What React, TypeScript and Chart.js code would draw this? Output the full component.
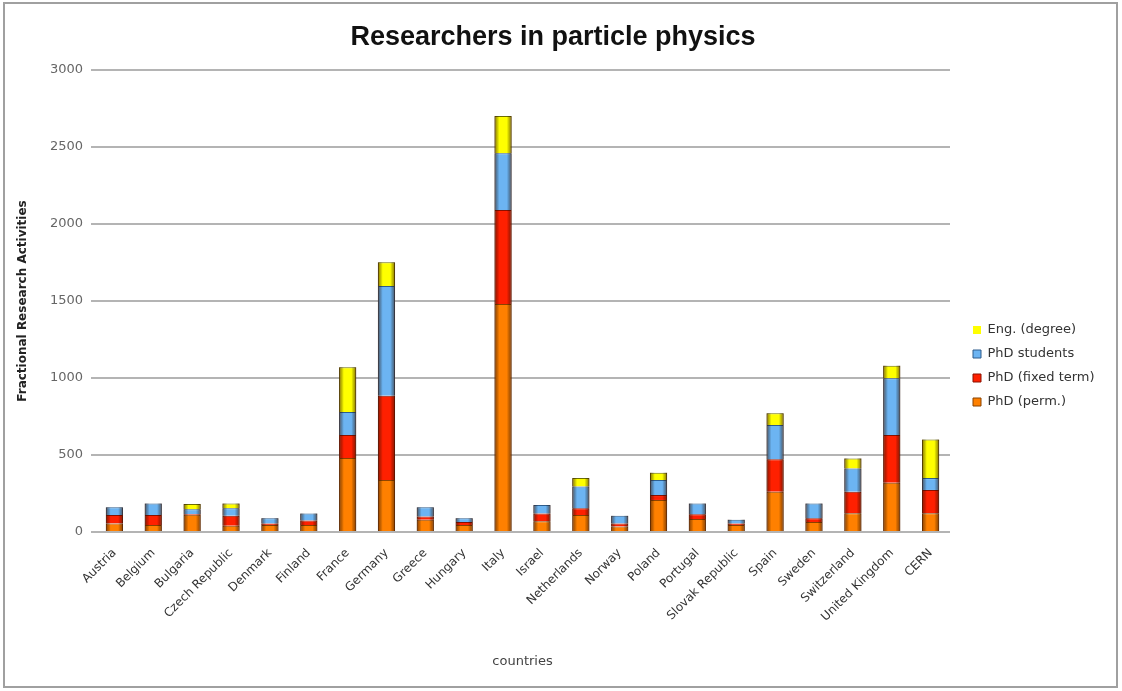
import React, { useEffect, useRef } from "react";
import { Chart, registerables } from "chart.js";

Chart.register(...registerables);

const countries = [
  "Austria", "Belgium", "Bulgaria", "Czech Republic", "Denmark", "Finland",
  "France", "Germany", "Greece", "Hungary", "Italy", "Israel", "Netherlands",
  "Norway", "Poland", "Portugal", "Slovak Republic", "Spain", "Sweden",
  "Switzerland", "United Kingdom", "CERN",
];

const phdPerm = [55, 45, 112, 40, 45, 45, 480, 338, 80, 45, 1481, 70, 110, 35, 208, 85, 45, 262, 65, 121, 320, 121];
const phdFixed = [55, 65, 5, 65, 10, 30, 150, 547, 20, 20, 610, 50, 45, 20, 32, 30, 10, 210, 25, 141, 310, 152];
const phdStudents = [50, 75, 30, 50, 35, 45, 150, 712, 60, 25, 368, 55, 140, 50, 98, 70, 25, 223, 95, 151, 368, 77];
const engDegree = [0, 0, 35, 30, 0, 0, 290, 154, 0, 0, 242, 0, 55, 0, 47, 0, 0, 76, 0, 65, 82, 250];

const seriesNames = ["PhD (perm.)", "PhD (fixed term)", "PhD students", "Eng. (degree)"];
const yMin = 0;
const yMax = 3000;
const yStep = 500;

const TITLE_FONT = "Arial, 'Liberation Sans', sans-serif";
const FONT = "'DejaVu Sans', Verdana, sans-serif";
const W = 1122;
const H = 691;

export default function App() {
  const ref = useRef<HTMLCanvasElement>(null);

  useEffect(() => {
    document.body.style.margin = "0";
    const canvas = ref.current!;

    const framePlugin = {
      id: "frame",
      afterDraw(chart: any) {
        const c = chart.ctx;
        c.save();
        c.strokeStyle = "#a0a0a0";
        c.lineWidth = 2;
        c.strokeRect(4, 3, W - 9, H - 7);
        c.restore();
      },
    };

    const shadePlugin = {
      id: "shade",
      afterDatasetsDraw(chart: any) {
        const c = chart.ctx;
        chart.data.datasets.forEach((ds: any, i: number) => {
          const meta = chart.getDatasetMeta(i);
          meta.data.forEach((bar: any, j: number) => {
            if (!ds.data[j]) return;
            const { x, y, base, width } = bar.getProps(["x", "y", "base", "width"], true);
            const l = x - width / 2;
            const g = c.createLinearGradient(l, 0, l + width, 0);
            g.addColorStop(0, "rgba(70,25,0,0.6)");
            g.addColorStop(0.28, "rgba(0,0,0,0)");
            g.addColorStop(0.72, "rgba(0,0,0,0)");
            g.addColorStop(1, "rgba(70,25,0,0.6)");
            c.save();
            c.fillStyle = g;
            c.fillRect(l, Math.min(y, base), width, Math.abs(base - y));
            c.restore();
          });
        });
      },
    };

    const legendPlugin = {
      id: "legendPos",
      beforeUpdate(chart: any) {
        const lg = chart.legend;
        if (lg && !lg._wrappedFit) {
          const orig = lg.fit.bind(lg);
          lg.fit = function () {
            orig();
            this.width = W - 16 - 950;
          };
          lg._wrappedFit = true;
        }
      },
      afterUpdate(chart: any) {
        const lg = chart.legend;
        const hb = lg && lg.legendHitBoxes;
        if (!hb || !hb.length) return;
        const dy = 330 - (hb[0].top + hb[0].height / 2);
        const dx = 973 - hb[0].left;
        lg.top += dy;
        lg.bottom += dy;
        lg.left += dx;
        lg.right += dx;
        lg.adjustHitBoxes();
      },
    };

    const mk = (label: string, data: number[], bg: string, border: string) => ({
      label,
      data,
      backgroundColor: bg,
      borderColor: border,
      borderWidth: (ctx: any) => (ctx.raw ? 1 : 0),
      barPercentage: 0.44,
      categoryPercentage: 1,
    });

    const chart = new Chart(canvas, {
      type: "bar",
      data: {
        labels: countries,
        datasets: [
          mk(seriesNames[0], phdPerm, "#FF8000", "#8a4200"),
          mk(seriesNames[1], phdFixed, "#FF2000", "#8a1000"),
          mk(seriesNames[2], phdStudents, "#6cb4f2", "#2e5d8c"),
          mk(seriesNames[3], engDegree, "#FFFF00", "#6e6e00"),
        ],
      },
      options: {
        animation: false,
        responsive: true,
        maintainAspectRatio: false,
        layout: { padding: { left: 0, right: 16, top: 0, bottom: 0 } },
        plugins: {
          title: {
            display: true,
            text: "Researchers in particle physics",
            color: "#111",
            font: { family: TITLE_FONT, size: 27, weight: "bold" },
            padding: { top: 21, bottom: 16.6 },
          },
          legend: {
            display: true,
            position: "right",
            reverse: true,
            labels: {
              boxWidth: 8,
              boxHeight: 8,
              padding: 11,
              color: "#333",
              font: { family: FONT, size: 13 },
            },
          },
          tooltip: { enabled: false },
        },
        scales: {
          x: {
            stacked: true,
            grid: { display: false },
            border: { display: false },
            ticks: {
              autoSkip: false,
              minRotation: 45,
              maxRotation: 45,
              color: "#333",
              font: { family: FONT, size: 12 },
              padding: 6,
            },
            title: {
              display: true,
              text: "countries",
              color: "#444",
              font: { family: FONT, size: 13 },
              padding: { top: 0, bottom: 22 },
            },
            afterFit: (s: any) => {
              s.height = H - 532;
            },
          },
          y: {
            stacked: true,
            min: yMin,
            max: yMax,
            ticks: {
              stepSize: yStep,
              color: "#666",
              font: { family: FONT, size: 13 },
              padding: 8,
              callback: (v: any) => String(v),
            },
            grid: { color: "#b4b4b4", lineWidth: 2, tickLength: 4 },
            border: { display: false },
            title: {
              display: true,
              text: "Fractional Research Activities",
              color: "#222",
              font: { family: FONT, size: 12, weight: "bold" },
              padding: { top: 16, bottom: 0 },
            },
            afterFit: (s: any) => {
              s.width = 95;
            },
          },
        },
      },
      plugins: [shadePlugin, legendPlugin, framePlugin],
    } as any);

    return () => chart.destroy();
  }, []);

  return (
    <div style={{ position: "relative", width: W, height: H, background: "#fff" }}>
      <canvas ref={ref} />
    </div>
  );
}
